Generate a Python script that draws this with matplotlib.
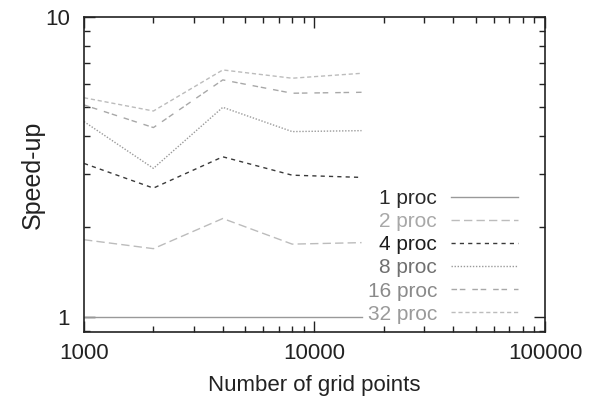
import matplotlib
matplotlib.use("Agg")
import matplotlib.pyplot as plt
from matplotlib.ticker import FixedLocator, NullFormatter, LogLocator

plt.rcParams['font.family'] = ['Liberation Sans', 'DejaVu Sans']

# grid sizes and measured speed-ups
grid_points = [1000, 2000, 4000, 8000, 16000]
speedup_1 = [1.0, 1.0, 1.0, 1.0, 1.0]
speedup_2 = [1.81, 1.69, 2.13, 1.75, 1.77]
speedup_4 = [3.25, 2.69, 3.42, 2.97, 2.92]
speedup_8 = [4.48, 3.13, 5.00, 4.15, 4.18]
speedup_16 = [5.09, 4.28, 6.17, 5.57, 5.61]
speedup_32 = [5.38, 4.86, 6.66, 6.25, 6.49]
labels = ['1 proc', '2 proc', '4 proc', '8 proc', '16 proc', '32 proc']

fig = plt.figure(figsize=(5.93, 4.04), dpi=100)
ax = fig.add_axes([0.1417, 0.178, 0.919 - 0.1417, 0.958 - 0.178])

series = [speedup_1, speedup_2, speedup_4, speedup_8, speedup_16, speedup_32]
line_colors = ['#999999', '#bcbcbc', '#3a3a3a', '#9a9a9a', '#a8a8a8', '#bcbcbc']
text_colors = ['#2a2a2a', '#a8a8a8', '#1e1e1e', '#707070', '#8a8a8a', '#9a9a9a']
styles = ['-', (0, (6, 3)), (0, (3, 3)), (0, (1, 1.2)), (0, (4, 2, 4, 5)), (0, (3, 2))]

for y, lab, c, ls in zip(series, labels, line_colors, styles):
    ax.plot(grid_points, y, color=c, linestyle=ls, linewidth=1.0, label=lab)

ax.set_xscale('log')
ax.set_yscale('log')
ax.set_xlim(1000, 100000)
ax.set_ylim(0.891, 10)

ax.xaxis.set_major_locator(FixedLocator([1000, 10000, 100000]))
ax.xaxis.set_minor_locator(LogLocator(base=10, subs=range(2, 10)))
ax.xaxis.set_minor_formatter(NullFormatter())
ax.set_xticklabels(['1000', '10000', '100000'])
ax.yaxis.set_major_locator(FixedLocator([1, 10]))
ax.yaxis.set_minor_locator(LogLocator(base=10, subs=range(2, 10)))
ax.yaxis.set_minor_formatter(NullFormatter())
ax.set_yticklabels(['1', '10'])

ax.tick_params(which='both', direction='in', top=True, right=True, width=1.0, colors='#222222', labelsize=16)
ax.tick_params(which='major', length=8, pad=8)
ax.tick_params(which='minor', length=4)
ax.tick_params(axis='y', which='major', pad=10)
for s in ax.spines.values():
    s.set_linewidth(1.2)
    s.set_color('#222222')

ax.set_xlabel('Number of grid points', fontsize=16, color='#222222', labelpad=8)
ax.set_ylabel('Speed-up', fontsize=18, color='#222222', labelpad=0)

leg = ax.legend(loc='lower right', bbox_to_anchor=(0.959, 0.0), frameon=False,
                markerfirst=False, fontsize=15, handlelength=3.2, handletextpad=0.67,
                labelspacing=0.2, borderaxespad=0.0)
for t, c in zip(leg.get_texts(), text_colors):
    t.set_color(c)

fig.savefig('out.png', dpi=100)
